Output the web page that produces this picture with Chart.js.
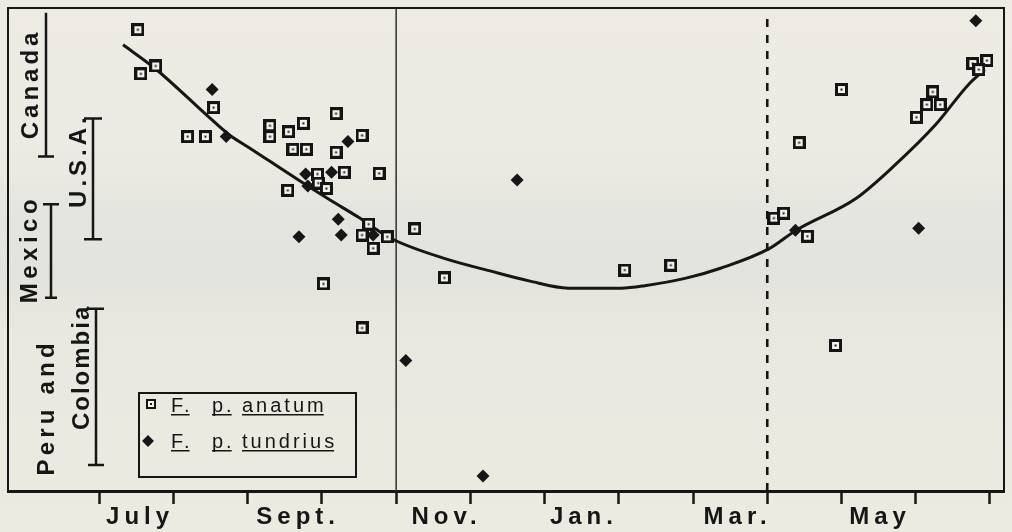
<!DOCTYPE html>
<html><head><meta charset="utf-8">
<script src="https://cdn.jsdelivr.net/npm/chart.js@4.4.1/dist/chart.umd.min.js"></script>
<style>
html,body{margin:0;padding:0;background:#ebeae2;overflow:hidden;}
#c{display:block;}
</style></head><body>
<canvas id="c" width="1012" height="532"></canvas>
<script>
// ---- data (x = months since 1 July, y = latitude, degrees) ----
const monthTicks = [0,1,2,3,4,5,6,7,8,9,10,11,12];
const labelPositions = [0.55,2.68,4.68,6.53,8.6,10.52];
const monthNames = ['July','Sept.','Nov.','Jan.','Mar.','May'];

const anatumMonth = [0.52,0.56,0.76,1.54,1.19,1.43,2.30,2.30,2.55,2.75,2.61,2.79,3.19,3.54,3.19,3.30,3.77,2.54,2.94,2.95,3.06,3.63,3.54,3.69,3.88,4.25,4.65,3.02,3.54,7.08,7.70,9.09,9.22,9.54,9.43,10.00,9.92,11.01,11.15,11.33,11.23,11.77,11.96,11.85];
const anatumLat   = [56.4,49.1,50.4,43.5,38.7,38.7,40.5,38.7,39.5,40.9,36.6,36.6,42.5,38.9,36.1,32.8,32.6,29.8,32.5,31.0,30.1,24.2,22.4,20.2,22.1,23.4,15.3,14.3,7.0,16.6,17.4,25.2,26.0,22.2,37.7,46.5,4.1,41.9,44.0,44.0,46.1,50.8,51.3,49.8];

const tundriusMonth = [1.52,1.71,3.35,3.13,2.78,2.81,3.22,2.69,3.26,3.69,4.13,5.17,5.63,9.38,11.04,11.81];
const tundriusLat   = [46.5,38.7,37.9,32.8,32.5,30.5,25.0,22.1,22.4,22.4,1.6,-17.5,31.5,23.2,23.5,57.9];

const curveMonth = [0.32,0.76,1.47,1.74,2.04,2.71,3.11,3.51,3.92,4.68,5.25,5.79,6.32,7.03,7.35,7.92,8.37,9.02,9.39,10.20,10.73,11.27,11.71,11.93];
const curveLat   = [53.9,49.9,42.0,39.1,36.7,31.3,28.2,25.2,21.9,18.4,16.5,14.8,13.6,13.6,14.0,15.3,16.9,20.1,23.2,28.5,34.1,40.7,47.3,49.8];

const boundaryMonths = [4, 9];
const latRange = [-20, 60];
const monthRange = [-1.23, 12.19];

const regionNames = ['Canada','U.S.A.','Mexico','Colombia'];
const regionSouth = [35.4, 21.7, 12.0, -15.7];
const regionNorth = [59.2, 41.7, 27.5, 10.2];
const regionTexts = ['Canada','U.S.A.','Mexico','Peru and','Colombia'];
const regionTextLat = [47.1, 34.4, 19.7, -6.5, 0.3];

const seriesNames = ['F. p. anatum','F. p. tundrius'];

// ---- marker images ----
function makeSquare(size, bw, dot){
  const c = document.createElement('canvas');
  c.width = size; c.height = size;
  const g = c.getContext('2d');
  g.fillStyle = '#141414'; g.fillRect(0,0,size,size);
  g.fillStyle = '#f4f3ee'; g.fillRect(bw,bw,size-2*bw,size-2*bw);
  g.fillStyle = '#141414';
  const d = dot, o = (size-d)/2; g.fillRect(o,o,d,d);
  return c;
}
const sqMarker = makeSquare(13, 3, 2);
const sqLegend = makeSquare(10, 2, 2);

const toPts = (xs, ys) => xs.map((x,i)=>({x:x, y:ys[i]}));

const ink = '#161616';
const FONT = "'Liberation Sans', Arial, Helvetica, sans-serif";

const deco = {
  id:'deco',
  beforeDraw(chart){
    const ctx = chart.ctx;
    const g = ctx.createLinearGradient(0,0,0,chart.height);
    g.addColorStop(0,'#edebe3');
    g.addColorStop(0.28,'#ecebe3');
    g.addColorStop(0.40,'#e5e5df');
    g.addColorStop(0.52,'#e3e3dd');
    g.addColorStop(0.62,'#e9e8e0');
    g.addColorStop(1,'#ecebe2');
    ctx.save(); ctx.fillStyle = g; ctx.fillRect(0,0,chart.width,chart.height); ctx.restore();
    ctx.letterSpacing = '5px';
  },
  afterDraw(chart){
    const ctx = chart.ctx, a = chart.chartArea, ys = chart.scales.y;
    ctx.save();
    ctx.letterSpacing = '0px';
    // frame
    ctx.strokeStyle = ink; ctx.lineWidth = 2;
    ctx.beginPath();
    ctx.moveTo(a.left, a.bottom); ctx.lineTo(a.left, a.top); ctx.lineTo(a.right, a.top); ctx.lineTo(a.right, a.bottom);
    ctx.stroke();
    // region brackets
    const bx = [38, 85, 43, 88];
    const capL = [[8,0],[9,9],[6,8],[8,8]];
    ctx.lineWidth = 2.5;
    regionNames.forEach((n,i)=>{
      const x = a.left + bx[i];
      const y1 = ys.getPixelForValue(regionNorth[i]);
      const y2 = ys.getPixelForValue(regionSouth[i]);
      ctx.beginPath();
      ctx.moveTo(x, y1); ctx.lineTo(x, y2);
      ctx.moveTo(x-capL[i][0], y2); ctx.lineTo(x+capL[i][0], y2);
      if (capL[i][1]) { ctx.moveTo(x-capL[i][1], y1); ctx.lineTo(x+capL[i][1], y1); }
      ctx.stroke();
    });
    // region labels (rotated)
    const tx = [23, 71, 22, 39, 74];
    const sp = [4, 4, 4.5, 4.2, 2];
    ctx.fillStyle = ink;
    ctx.font = 'bold 24px ' + FONT;
    ctx.textAlign = 'center'; ctx.textBaseline = 'middle';
    regionTexts.forEach((t,i)=>{
      ctx.save();
      ctx.letterSpacing = sp[i] + 'px';
      ctx.translate(a.left + tx[i], ys.getPixelForValue(regionTextLat[i]));
      ctx.rotate(-Math.PI/2);
      ctx.fillText(t, sp[i]/2, 0);
      ctx.restore();
    });
    // legend box
    const L = a.left + 131, R = a.left + 348, T = a.bottom - 98, B = a.bottom - 14;
    ctx.lineWidth = 2; ctx.strokeStyle = ink;
    ctx.strokeRect(L, T, R-L, B-T);
    const rows = [T+19, T+55];
    ctx.textAlign = 'left'; ctx.textBaseline = 'alphabetic';
    ctx.font = '20px ' + FONT;
    ctx.letterSpacing = '3px';
    chart.data.datasets.filter(d=>d.legendRow!==undefined).forEach(d=>{
      const yb = rows[d.legendRow];
      if (d.legendRow === 0) {
        ctx.drawImage(sqLegend, L+7, yb-13);
      } else {
        ctx.save(); ctx.fillStyle = ink;
        ctx.translate(L+9, yb-7); ctx.rotate(Math.PI/4);
        ctx.fillRect(-4.2,-4.2,8.4,8.4); ctx.restore();
      }
      const words = d.label.split(' ');
      const wx = [L+32, L+73, L+103];
      words.forEach((w,k)=>{
        ctx.fillText(w, wx[k], yb);
        const wd = ctx.measureText(w).width - 3;
        ctx.fillRect(wx[k], yb+2, wd, 1.5);
      });
    });
    ctx.restore();
  }
};

const allTicks = monthTicks.concat(labelPositions).sort((p,q)=>p-q);

new Chart(document.getElementById('c'), {
  type:'scatter',
  data:{ datasets:[
    { label: seriesNames[1], legendRow:1, data: toPts(tundriusMonth, tundriusLat), pointStyle:'rectRot', pointRadius:6.5, pointHoverRadius:6.5, backgroundColor: ink, borderColor: ink, borderWidth:0, order:1 },
    { label: seriesNames[0], legendRow:0, data: toPts(anatumMonth, anatumLat), pointStyle: sqMarker, pointRadius:7, pointHoverRadius:7, order:2 },
    { type:'line', label:'fit', data: toPts(curveMonth, curveLat), borderColor: ink, borderWidth:3, pointRadius:0, cubicInterpolationMode:'monotone', fill:false, order:4 },
    { type:'line', label:'b1', data: [{x:boundaryMonths[0], y:latRange[0]},{x:boundaryMonths[0], y:latRange[1]}], borderColor:'#3a3a3a', borderWidth:1.6, pointRadius:0, order:5 },
    { type:'line', label:'b2', data: [{x:boundaryMonths[1], y:latRange[0]},{x:boundaryMonths[1], y:latRange[1]-1.3}], borderColor:ink, borderWidth:2.6, borderDash:[8,8], pointRadius:0, order:5 }
  ]},
  options:{
    responsive:false, animation:false, devicePixelRatio:1,
    layout:{ padding:{ left:5, right:3, top:6, bottom:1.6 } },
    plugins:{ legend:{display:false}, tooltip:{enabled:false} },
    scales:{
      x:{ type:'linear', min: monthRange[0], max: monthRange[1],
        afterBuildTicks: s => { s.ticks = allTicks.map(v=>({value:v})); },
        ticks:{ autoSkip:false, maxRotation:0, minRotation:0, padding:0, color:ink,
          font:{ family:FONT, weight:'bold', size:24, lineHeight:1.1 },
          callback: v => { const i = labelPositions.indexOf(v); return i>=0 ? monthNames[i] : ''; } },
        grid:{ drawOnChartArea:false, drawTicks:true, tickLength:13, tickWidth:2.5,
          tickColor: c => (c.tick && Number.isInteger(c.tick.value)) ? ink : 'rgba(0,0,0,0)' },
        border:{ display:true, width:3, color:ink }
      },
      y:{ type:'linear', min: latRange[0], max: latRange[1], display:false }
    }
  },
  plugins:[deco]
});
</script>
</body></html>
